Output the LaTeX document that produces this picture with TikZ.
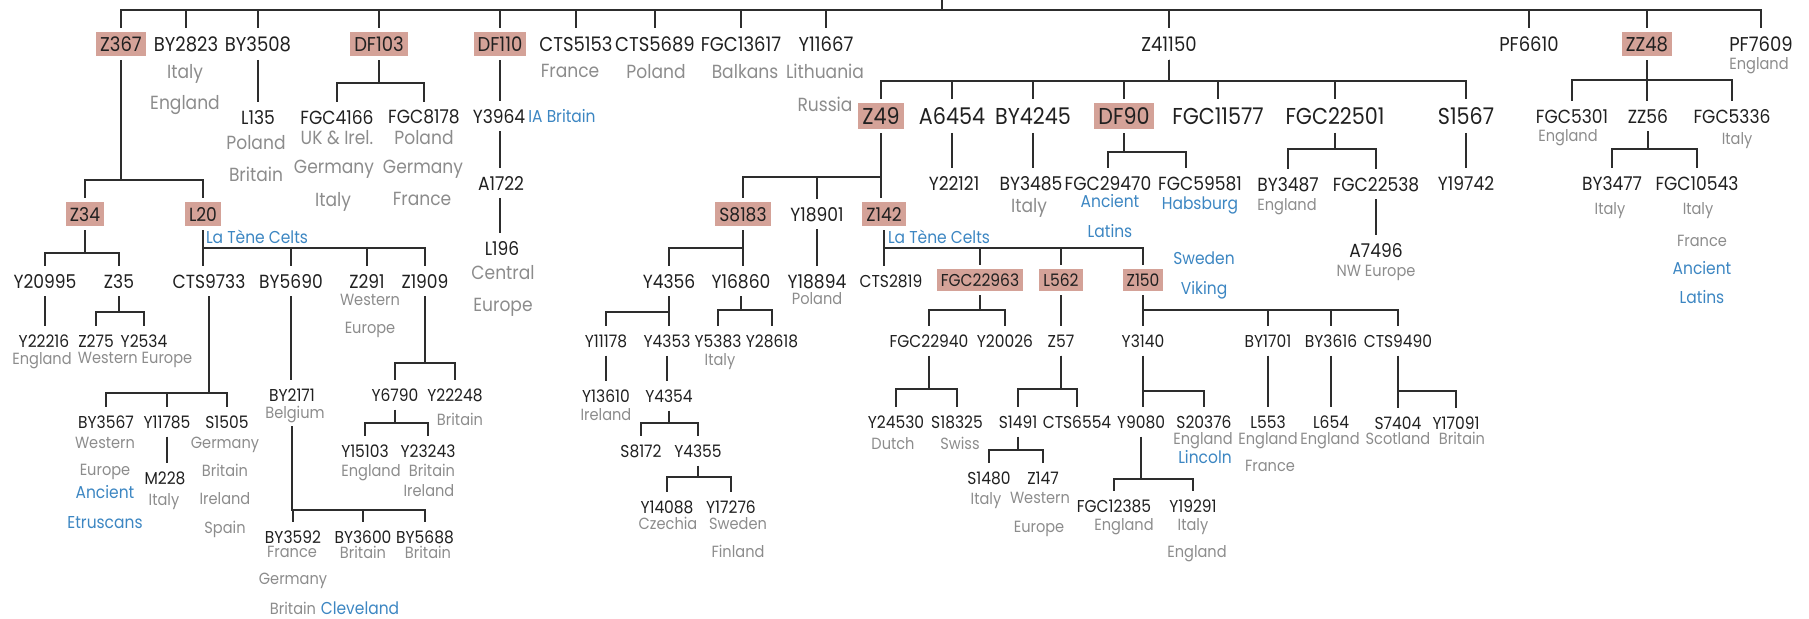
\documentclass[tikz,border=0pt]{standalone}
\usepackage{fontspec}
\setmainfont{Poppins}[FakeStretch=0.9]
\definecolor{snpfill}{RGB}{212,162,152}
\definecolor{snptext}{RGB}{32,32,32}
\definecolor{locgray}{RGB}{140,140,140}
\definecolor{tagblue}{RGB}{60,134,194}
\definecolor{treeline}{RGB}{45,45,45}

\begin{document}
\begin{tikzpicture}[x=0.5pt, y=-0.5pt,
    snp/.style={inner xsep=1pt, inner ysep=4pt, text depth=0pt, text=snptext},
    hl/.style={fill=snpfill, inner xsep=2pt, inner ysep=2.5pt, outer sep=2pt},
    lv0/.style={font=\fontsize{10}{12}\selectfont},
    lv1/.style={font=\fontsize{11.5}{13}\selectfont},
    lv2/.style={font=\fontsize{9.5}{11}\selectfont},
    lv3/.style={font=\fontsize{8.6}{10}\selectfont},
    loc/.style={inner sep=0pt, text depth=0pt, text=locgray, font=\fontsize{9.5}{11}\selectfont},
    sloc/.style={inner sep=0pt, text depth=0pt, text=locgray, font=\fontsize{8.1}{10}\selectfont},
    tag/.style={inner sep=0pt, text depth=0pt, text=tagblue, font=\fontsize{8.6}{10}\selectfont},
    link/.style={draw=treeline, line width=1.2pt}]
    \useasboundingbox (0,0) rectangle (1809,618);

    % Top row
    \coordinate (rootup) at (942,0);
    \coordinate (root) at (942,10);
    \node[snp,lv0,hl] (Z367) at (121,44) {Z367};
    \node[snp,lv0] (BY2823) at (186,44) {BY2823};
    \node[snp,lv0] (BY3508) at (258,44) {BY3508};
    \node[snp,lv0,hl] (DF103) at (379,44) {DF103};
    \node[snp,lv0,hl] (DF110) at (500,44) {DF110};
    \node[snp,lv0] (CTS5153) at (576,44) {CTS5153};
    \node[snp,lv0] (CTS5689) at (655,44) {CTS5689};
    \node[snp,lv0] (FGC13617) at (741,44) {FGC13617};
    \node[snp,lv0] (Y11667) at (826,44) {Y11667};
    \node[snp,lv0] (Z41150) at (1169,44) {Z41150};
    \node[snp,lv0] (PF6610) at (1529,44) {PF6610};
    \node[snp,lv0,hl] (ZZ48) at (1647,44) {ZZ48};
    \node[snp,lv0] (PF7609) at (1761,44) {PF7609};
    \draw[link] (rootup) -- (root);
    \foreach \c in {Z367,BY2823,BY3508,DF103,DF110,CTS5153,CTS5689,FGC13617,Y11667,Z41150,PF6610,ZZ48,PF7609}
        \draw[link] (root) -| (\c.north);

    \node[loc] (BY2823a) at (185,71) {Italy};
    \node[loc] (BY2823b) at (185,102) {England};
    \node[loc] (CTS5153a) at (570,71) {France};
    \node[loc] (CTS5689a) at (656,71) {Poland};
    \node[loc] (FGC13617a) at (745,71) {Balkans};
    \node[loc] (Y11667a) at (825,71) {Lithuania};
    \node[loc] (Y11667b) at (825,104) {Russia};
    \node[sloc] (PF7609a) at (1759,63) {England};

    % BY3508 and DF103
    \node[snp,lv2] (L135) at (258,117) {L135};
    \node[loc] (L135a) at (256,142) {Poland};
    \node[loc] (L135b) at (256,174) {Britain};
    \draw[link] (BY3508.south) -- (BY3508.south |- L135.north);

    \node[snp,lv2] (FGC4166) at (337,117) {FGC4166};
    \node[snp,lv2] (FGC8178) at (424,117) {FGC8178};
    \foreach \c in {FGC4166,FGC8178}
        \draw[link] (DF103.south) -- (DF103.south |- 0,83) -| (\c.north);
    \node[loc] (FGC4166a) at (337,137) {UK \& Irel.};
    \node[loc] (FGC4166b) at (334,167) {Germany};
    \node[loc] (FGC4166c) at (333,199) {Italy};
    \node[loc] (FGC8178a) at (424,137) {Poland};
    \node[loc] (FGC8178b) at (423,167) {Germany};
    \node[loc] (FGC8178c) at (422,199) {France};

    % Z367
    \node[snp,lv2,hl] (Z34) at (85,214) {Z34};
    \node[snp,lv2,hl] (L20) at (203,214) {L20};
    \foreach \c in {Z34,L20}
        \draw[link] (Z367.south) -- (Z367.south |- 0,180) -| (\c.north);

    \node[snp,lv2] (Y20995) at (45,281) {Y20995};
    \node[snp,lv2] (Z35) at (119,281) {Z35};
    \foreach \c in {Y20995,Z35}
        \draw[link] (Z34.south) -- (Z34.south |- 0,253) -| (\c.north);

    \node[tag] (L20a) at (257,237) {La Tène Celts};
    \node[snp,lv2] (CTS9733) at (209,281) {CTS9733};
    \node[snp,lv2] (BY5690) at (291,281) {BY5690};
    \node[snp,lv2] (Z291) at (367,281) {Z291};
    \node[snp,lv2] (Z1909) at (425,281) {Z1909};
    \draw[link] (L20.south) -- (L20.south |- CTS9733.north);
    \foreach \c in {BY5690,Z291,Z1909}
        \draw[link] (L20.south) -- (L20.south |- 0,248) -| (\c.north);
    \node[sloc] (Z291a) at (370,300) {Western};
    \node[sloc] (Z291b) at (370,328) {Europe};

    \node[snp,lv3] (Y22216) at (44,341) {Y22216};
    \node[sloc] (Y22216a) at (42,358) {England};
    \draw[link] (Y20995.south) -- (Y20995.south |- Y22216.north);
    \node[snp,lv3] (Z275) at (96,341) {Z275};
    \node[snp,lv3] (Y2534) at (144,341) {Y2534};
    \foreach \c in {Z275,Y2534}
        \draw[link] (Z35.south) -- (Z35.south |- 0,312) -| (\c.north);
    \node[sloc] (Z275a) at (135,358) {Western Europe};

    % CTS9733
    \node[snp,lv3] (BY3567) at (106,422) {BY3567};
    \node[snp,lv3] (Y11785) at (167,422) {Y11785};
    \node[snp,lv3] (S1505) at (227,422) {S1505};
    \foreach \c in {BY3567,Y11785,S1505}
        \draw[link] (CTS9733.south) -- (CTS9733.south |- 0,393) -| (\c.north);
    \node[sloc] (BY3567a) at (105,443) {Western};
    \node[sloc] (BY3567b) at (105,470) {Europe};
    \node[tag] (BY3567c) at (105,492) {Ancient};
    \node[tag] (BY3567d) at (105,522) {Etruscans};
    \node[snp,lv3] (M228) at (165,478) {M228};
    \node[sloc] (M228a) at (164,499) {Italy};
    \draw[link] (Y11785.south) -- (Y11785.south |- M228.north);
    \node[sloc] (S1505a) at (225,443) {Germany};
    \node[sloc] (S1505b) at (225,470) {Britain};
    \node[sloc] (S1505c) at (225,498) {Ireland};
    \node[sloc] (S1505d) at (225,527) {Spain};

    % BY5690
    \node[snp,lv3] (BY2171) at (292,395) {BY2171};
    \node[sloc] (BY2171a) at (295,412) {Belgium};
    \coordinate (BY2171b) at (292,426);
    \draw[link] (BY5690.south) -- (BY5690.south |- BY2171.north);
    \node[snp,lv3] (BY3592) at (293,537) {BY3592};
    \node[snp,lv3] (BY3600) at (363,537) {BY3600};
    \node[snp,lv3] (BY5688) at (425,537) {BY5688};
    \foreach \c in {BY3592,BY3600,BY5688}
        \draw[link] (BY2171b) -- (BY2171b |- 0,510) -| (\c.north);
    \node[sloc] (BY3592a) at (292,552) {France};
    \node[sloc] (BY3592b) at (293,579) {Germany};
    \node[sloc] (BY3592c) at (293,608) {Britain};
    \node[tag] (BY3592d) at (360,608) {Cleveland};
    \node[sloc] (BY3600a) at (363,552) {Britain};
    \node[sloc] (BY5688a) at (428,552) {Britain};

    % Z1909
    \node[snp,lv3] (Y6790) at (395,395) {Y6790};
    \node[snp,lv3] (Y22248) at (455,395) {Y22248};
    \foreach \c in {Y6790,Y22248}
        \draw[link] (Z1909.south) -- (Z1909.south |- 0,363) -| (\c.north);
    \node[sloc] (Y22248a) at (460,419) {Britain};
    \node[snp,lv3] (Y15103) at (365,451) {Y15103};
    \node[snp,lv3] (Y23243) at (428,451) {Y23243};
    \foreach \c in {Y15103,Y23243}
        \draw[link] (Y6790.south) -- (Y6790.south |- 0,423) -| (\c.north);
    \node[sloc] (Y15103a) at (371,470) {England};
    \node[sloc] (Y23243a) at (432,470) {Britain};
    \node[sloc] (Y23243b) at (429,490) {Ireland};

    % DF110
    \node[snp,lv2] (Y3964) at (499,116) {Y3964};
    \node[tag] (Y3964a) at (562,116) {IA Britain};
    \node[snp,lv2] (A1722) at (501,183) {A1722};
    \node[snp,lv2] (L196) at (502,248) {L196};
    \node[loc] (L196a) at (503,272) {Central};
    \node[loc] (L196b) at (503,305) {Europe};
    \draw[link] (DF110.south) -- (DF110.south |- Y3964.north);
    \draw[link] (DF110.south |- Y3964.south) -- (DF110.south |- A1722.north);
    \draw[link] (DF110.south |- A1722.south) -- (DF110.south |- L196.north);

    % Z41150
    \node[snp,lv1,hl] (Z49) at (881,116) {Z49};
    \node[snp,lv1] (A6454) at (952,116) {A6454};
    \node[snp,lv1] (BY4245) at (1033,116) {BY4245};
    \node[snp,lv1,hl] (DF90) at (1124,116) {DF90};
    \node[snp,lv1] (FGC11577) at (1218,116) {FGC11577};
    \node[snp,lv1] (FGC22501) at (1335,116) {FGC22501};
    \node[snp,lv1] (S1567) at (1466,116) {S1567};
    \foreach \c in {Z49,A6454,BY4245,DF90,FGC11577,FGC22501,S1567}
        \draw[link] (Z41150.south) -- (Z41150.south |- 0,81) -| (\c.north);

    \node[snp,lv2] (Y22121) at (954,183) {Y22121};
    \draw[link] (A6454.south) -- (A6454.south |- Y22121.north);
    \node[snp,lv2] (BY3485) at (1031,183) {BY3485};
    \node[loc] (BY3485a) at (1029,205) {Italy};
    \draw[link] (BY4245.south) -- (BY4245.south |- BY3485.north);

    \node[snp,lv2] (FGC29470) at (1108,183) {FGC29470};
    \node[snp,lv2] (FGC59581) at (1200,183) {FGC59581};
    \draw[link] (DF90.south) -- (DF90.south |- 0,152) -| (FGC29470.north);
    \draw[link] (DF90.south) -- (DF90.south |- 0,152) -| ([xshift=-7pt]FGC59581.north);
    \node[tag] (FGC29470a) at (1110,201) {Ancient};
    \node[tag] (FGC29470b) at (1110,231) {Latins};
    \node[tag] (FGC59581a) at (1200,203) {Habsburg};

    \node[snp,lv2] (BY3487) at (1288,184) {BY3487};
    \node[snp,lv2] (FGC22538) at (1376,184) {FGC22538};
    \foreach \c in {BY3487,FGC22538}
        \draw[link] (FGC22501.south) -- (FGC22501.south |- 0,149) -| (\c.north);
    \node[sloc] (BY3487a) at (1287,204) {England};
    \node[snp,lv2] (A7496) at (1376,250) {A7496};
    \node[sloc] (A7496a) at (1376,271) {NW Europe};
    \draw[link] (FGC22538.south) -- (FGC22538.south |- A7496.north);
    \node[snp,lv2] (Y19742) at (1466,183) {Y19742};
    \draw[link] (S1567.south) -- (S1567.south |- Y19742.north);

    % Z49
    \node[snp,lv2,hl] (S8183) at (743,214) {S8183};
    \node[snp,lv2] (Y18901) at (817,214) {Y18901};
    \node[snp,lv2,hl] (Z142) at (884,214) {Z142};
    \draw[link] (Z49.south) -- (Z49.south |- Z142.north);
    \foreach \c in {S8183,Y18901}
        \draw[link] (Z49.south) -- (Z49.south |- 0,177) -| (\c.north);
    \node[snp,lv2] (Y18894) at (817,281) {Y18894};
    \node[sloc] (Y18894a) at (817,298) {Poland};
    \draw[link] (Y18901.south) -- (Y18901.south |- Y18894.north);

    % S8183
    \node[snp,lv2] (Y4356) at (669,281) {Y4356};
    \node[snp,lv2] (Y16860) at (741,281) {Y16860};
    \draw[link] (S8183.south) -- (S8183.south |- Y16860.north);
    \draw[link] (S8183.south) -- (S8183.south |- 0,248) -| (Y4356.north);
    \node[snp,lv3] (Y11178) at (606,341) {Y11178};
    \node[snp,lv3] (Y4353) at (667,341) {Y4353};
    \draw[link] (Y4356.south) -- (Y4356.south |- Y4353.north);
    \draw[link] (Y4356.south) -- (Y4356.south |- 0,312) -| (Y11178.north);
    \node[snp,lv3] (Y5383) at (718,341) {Y5383};
    \node[snp,lv3] (Y28618) at (772,341) {Y28618};
    \foreach \c in {Y5383,Y28618}
        \draw[link] (Y16860.south) -- (Y16860.south |- 0,310) -| (\c.north);
    \node[sloc] (Y5383a) at (720,359) {Italy};
    \node[snp,lv3] (Y13610) at (606,396) {Y13610};
    \node[sloc] (Y13610a) at (606,414) {Ireland};
    \draw[link] (Y11178.south) -- (Y11178.south |- Y13610.north);
    \node[snp,lv3] (Y4354) at (669,396) {Y4354};
    \draw[link] (Y4353.south) -- (Y4353.south |- Y4354.north);
    \node[snp,lv3] (S8172) at (641,451) {S8172};
    \node[snp,lv3] (Y4355) at (698,451) {Y4355};
    \foreach \c in {S8172,Y4355}
        \draw[link] (Y4354.south) -- (Y4354.south |- 0,423) -| (\c.north);
    \node[snp,lv3] (Y14088) at (667,507) {Y14088};
    \node[snp,lv3] (Y17276) at (731,507) {Y17276};
    \foreach \c in {Y14088,Y17276}
        \draw[link] (Y4355.south) -- (Y4355.south |- 0,477) -| (\c.north);
    \node[sloc] (Y14088a) at (668,523) {Czechia};
    \node[sloc] (Y17276a) at (738,523) {Sweden};
    \node[sloc] (Y17276b) at (738,551) {Finland};

    % Z142
    \node[tag] (Z142a) at (939,237) {La Tène Celts};
    \node[snp,lv3] (CTS2819) at (891,281) {CTS2819};
    \node[snp,lv3,hl] (FGC22963) at (980,280) {FGC22963};
    \node[snp,lv3,hl] (L562) at (1061,280) {L562};
    \node[snp,lv3,hl] (Z150) at (1143,280) {Z150};
    \draw[link] (Z142.south) -- (Z142.south |- CTS2819.north);
    \foreach \c in {FGC22963,L562,Z150}
        \draw[link] (Z142.south) -- (Z142.south |- 0,248) -| (\c.north);
    \node[tag] (Z150a) at (1204,258) {Sweden};
    \node[tag] (Z150b) at (1204,288) {Viking};

    \node[snp,lv3] (FGC22940) at (929,341) {FGC22940};
    \node[snp,lv3] (Y20026) at (1005,341) {Y20026};
    \foreach \c in {FGC22940,Y20026}
        \draw[link] (FGC22963.south) -- (FGC22963.south |- 0,310) -| (\c.north);
    \node[snp,lv3] (Y24530) at (896,422) {Y24530};
    \node[snp,lv3] (S18325) at (957,422) {S18325};
    \foreach \c in {Y24530,S18325}
        \draw[link] (FGC22940.south) -- (FGC22940.south |- 0,389) -| (\c.north);
    \node[sloc] (Y24530a) at (893,443) {Dutch};
    \node[sloc] (S18325a) at (960,443) {Swiss};

    \node[snp,lv3] (Z57) at (1061,341) {Z57};
    \draw[link] (L562.south) -- (L562.south |- Z57.north);
    \node[snp,lv3] (S1491) at (1018,422) {S1491};
    \node[snp,lv3] (CTS6554) at (1077,422) {CTS6554};
    \foreach \c in {S1491,CTS6554}
        \draw[link] (Z57.south) -- (Z57.south |- 0,389) -| (\c.north);
    \node[snp,lv3] (S1480) at (989,478) {S1480};
    \node[snp,lv3] (Z147) at (1043,478) {Z147};
    \foreach \c in {S1480,Z147}
        \draw[link] (S1491.south) -- (S1491.south |- 0,450) -| (\c.north);
    \node[sloc] (S1480a) at (986,498) {Italy};
    \node[sloc] (Z147a) at (1040,498) {Western};
    \node[sloc] (Z147b) at (1039,527) {Europe};

    % Z150
    \node[snp,lv3] (Y3140) at (1143,341) {Y3140};
    \node[snp,lv3] (BY1701) at (1268,341) {BY1701};
    \node[snp,lv3] (BY3616) at (1331,341) {BY3616};
    \node[snp,lv3] (CTS9490) at (1398,341) {CTS9490};
    \draw[link] (Z150.south) -- (Z150.south |- Y3140.north);
    \foreach \c in {BY1701,BY3616,CTS9490}
        \draw[link] (Z150.south) -- (Z150.south |- 0,310) -| (\c.north);

    \node[snp,lv3] (Y9080) at (1141,422) {Y9080};
    \node[snp,lv3] (S20376) at (1204,422) {S20376};
    \draw[link] (Y3140.south) -- (Y3140.south |- Y9080.north);
    \draw[link] (Y3140.south) -- (Y3140.south |- 0,391) -| (S20376.north);
    \node[sloc] (S20376a) at (1203,438) {England};
    \node[tag] (S20376b) at (1205,457) {Lincoln};
    \node[snp,lv3] (FGC12385) at (1114,506) {FGC12385};
    \node[snp,lv3] (Y19291) at (1193,506) {Y19291};
    \foreach \c in {FGC12385,Y19291}
        \draw[link] (Y9080.south) -- (Y9080.south |- 0,479) -| (\c.north);
    \node[sloc] (FGC12385a) at (1124,524) {England};
    \node[sloc] (Y19291a) at (1193,524) {Italy};
    \node[sloc] (Y19291b) at (1197,551) {England};

    \node[snp,lv3] (L553) at (1268,422) {L553};
    \node[sloc] (L553a) at (1268,438) {England};
    \node[sloc] (L553b) at (1270,466) {France};
    \draw[link] (BY1701.south) -- (BY1701.south |- L553.north);
    \node[snp,lv3] (L654) at (1331,422) {L654};
    \node[sloc] (L654a) at (1330,438) {England};
    \draw[link] (BY3616.south) -- (BY3616.south |- L654.north);

    \node[snp,lv3] (S7404) at (1398,423) {S7404};
    \node[snp,lv3] (Y17091) at (1456,423) {Y17091};
    \draw[link] (CTS9490.south) -- (CTS9490.south |- S7404.north);
    \draw[link] (CTS9490.south) -- (CTS9490.south |- 0,391) -| (Y17091.north);
    \node[sloc] (S7404a) at (1398,438) {Scotland};
    \node[sloc] (Y17091a) at (1462,438) {Britain};

    % ZZ48
    \node[snp,lv2] (FGC5301) at (1572,116) {FGC5301};
    \node[snp,lv2] (ZZ56) at (1648,116) {ZZ56};
    \node[snp,lv2] (FGC5336) at (1732,116) {FGC5336};
    \draw[link] (ZZ48.south) -- (ZZ48.south |- ZZ56.north);
    \foreach \c in {FGC5301,FGC5336}
        \draw[link] (ZZ48.south) -- (ZZ48.south |- 0,80) -| (\c.north);
    \node[sloc] (FGC5301a) at (1568,135) {England};
    \node[sloc] (FGC5336a) at (1737,138) {Italy};

    \node[snp,lv2] (BY3477) at (1612,183) {BY3477};
    \node[snp,lv2] (FGC10543) at (1697,183) {FGC10543};
    \foreach \c in {BY3477,FGC10543}
        \draw[link] (ZZ56.south) -- (ZZ56.south |- 0,149) -| (\c.north);
    \node[sloc] (BY3477a) at (1610,208) {Italy};
    \node[sloc] (FGC10543a) at (1698,208) {Italy};
    \node[sloc] (FGC10543b) at (1702,241) {France};
    \node[tag] (FGC10543c) at (1702,268) {Ancient};
    \node[tag] (FGC10543d) at (1702,297) {Latins};
\end{tikzpicture}
\end{document}
